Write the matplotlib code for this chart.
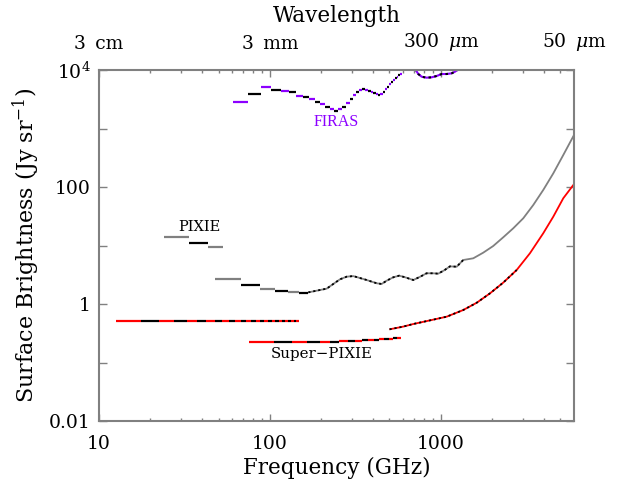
import numpy as np
import matplotlib
matplotlib.use("Agg")
import matplotlib.pyplot as plt
from matplotlib.ticker import FixedLocator, FixedFormatter, NullFormatter

plt.rcParams['font.family'] = ['DejaVu Serif']
plt.rcParams['mathtext.fontset'] = 'dejavuserif'

# ---------------- data (GHz, Jy/sr) ----------------
firas_edges = [61.0, 74.6, 88.2, 101.8, 115.4, 129.0, 142.6, 156.2, 169.8, 183.4,
               197.0, 210.6, 224.2, 237.8, 251.4, 265.0, 278.6, 292.2, 305.8, 319.4,
               333.0, 346.6, 360.2, 373.8, 387.4, 401.0, 414.6, 428.2, 441.8, 455.4,
               469.0, 482.6, 496.2, 509.8, 523.4, 537.0, 550.6, 564.2, 577.8, 591.4]
firas_vals = [2840, 3890, 5060, 4600, 4430, 4150, 3590, 3500, 3150, 2870,
              2620, 2360, 2130, 2010, 2130, 2360, 2760, 3150, 3690, 4200,
              4550, 4680, 4600, 4430, 4200, 3990, 3840, 3740, 3840, 4200,
              4680, 5190, 5770, 6240, 6740, 7210, 7690, 8110, 8550]
firas_hi_freq = [705, 737, 771, 824, 882, 944, 1009, 1080, 1155, 1208, 1245, 1260]
firas_hi_vals = [10500, 8540, 7680, 7390, 7500, 7900, 8540, 8540, 8780, 9350, 10000, 10300]

pixie_band1_edges = [24.0, 33.7, 43.2, 52.9]
pixie_band1_vals = [13.8, 11.2, 9.4]
pixie_band2_edges = [48.0, 67.5, 87.0, 107.0, 127.0, 147.0, 167.5]
pixie_band2_vals = [2.64, 2.09, 1.80, 1.67, 1.63, 1.56]
pixie_hi_freq = [167.5, 187.6, 214.6, 234.6, 256.5, 280.9, 307, 336, 368, 421, 450,
                 481, 526, 570, 620, 689, 760, 824, 900, 964, 1050, 1129, 1236,
                 1350, 1545, 1767, 2021, 2313, 2648, 3030, 3466, 3966, 4539, 5193, 6000]
pixie_hi_vals = [1.58, 1.69, 1.83, 2.20, 2.64, 2.93, 3.00, 2.78, 2.57, 2.26, 2.20,
                 2.50, 2.86, 3.05, 2.85, 2.57, 2.95, 3.35, 3.35, 3.30, 3.80, 4.40, 4.34,
                 5.65, 6.04, 7.54, 9.8, 13.8, 19.7, 29.2, 49.2, 89, 171, 352, 774]

sp_lo_edges = [12.5, 17.5, 22.5, 27.5, 32.5, 37.5, 42.5, 47.5, 52.5, 57.5, 62.5,
               67.5, 72.5, 77.5, 82.5, 87.5, 92.5, 97.5, 102.5, 107.5, 112.5,
               117.5, 122.5, 127.5, 132.5, 137.5, 142.5, 147.5]
sp_lo_vals = [0.51] * 27
sp_mid_edges = [75, 105, 135, 165, 195, 225, 255, 285, 315, 345, 375, 405, 435,
                465, 495, 525, 555, 585]
sp_mid_vals = [0.221, 0.221, 0.222, 0.223, 0.226, 0.228, 0.231, 0.233, 0.236,
               0.239, 0.242, 0.245, 0.249, 0.252, 0.256, 0.260, 0.264]
sp_hi_freq = [500, 600, 689, 850, 1080, 1350, 1618, 1935, 2313, 2772, 3314, 3966,
              4539, 5193, 6000]
sp_hi_vals = [0.369, 0.41, 0.455, 0.52, 0.607, 0.789, 1.05, 1.52, 2.32, 3.81, 7.36,
              16.2, 31.1, 64.2, 112]

y_ticks = [0.01, 0.1, 1, 10, 100, 1000, 1e4]
y_labels = ['0.01', '', '1', '', '100', '', r'$10^4$']
x_ticks = [10, 100, 1000]
x_labels = ['10', '100', '1000']
wl_freqs = [10, 100, 1000, 6000]
wl_labels = ['3\u2002cm', '3\u2002mm', '300\u2002$\\mu$m', '50\u2002$\\mu$m']

PURPLE = '#8c00ff'
GRAY = '#808080'
RED = '#ff0000'
SPINE = '#808080'

fig = plt.figure(figsize=(6.19, 4.84), dpi=100)
ax = fig.add_axes([99/619, 1-421/484, (574-99)/619, (421-70)/484])
ax.set_xscale('log')
ax.set_yscale('log')
ax.set_xlim(10, 6000)
ax.set_ylim(0.01, 1e4)


def bins(edges, vals, c1, c2, lw=1.6):
    e = np.asarray(edges)
    cols = [c1 if i % 2 == 0 else c2 for i in range(len(vals))]
    ax.hlines(vals, e[:-1], e[1:], colors=cols, linewidth=lw)


def dashed(freq, vals, c, lw=1.5, n_dash=None):
    ax.plot(freq, vals, color=c, lw=lw, solid_capstyle='butt')
    k = len(freq) if n_dash is None else n_dash
    ax.plot(freq[:k], vals[:k], color='black', lw=lw, linestyle=(0, (1.2, 1.6)))


bins(firas_edges, firas_vals, PURPLE, 'black')
dashed(firas_hi_freq, firas_hi_vals, PURPLE)

bins(pixie_band1_edges, pixie_band1_vals, GRAY, 'black')
bins(pixie_band2_edges, pixie_band2_vals, GRAY, 'black')
dashed(pixie_hi_freq, pixie_hi_vals, GRAY, lw=1.3, n_dash=24)

bins(sp_lo_edges, sp_lo_vals, RED, 'black')
bins(sp_mid_edges, sp_mid_vals, RED, 'black')
dashed(sp_hi_freq, sp_hi_vals, RED, lw=1.3, n_dash=10)

# text labels
ax.text(38.5, 20.7, 'PIXIE', fontsize=10.5, ha='center', va='center')
ax.text(200, 0.138, 'Super\u2212PIXIE', fontsize=10.8, ha='center', va='center')
ax.text(245, 1291, 'FIRAS', fontsize=11.5, ha='center', va='center', color=PURPLE,
        family='Liberation Serif')

# axes styling
for s in ax.spines.values():
    s.set_color(SPINE)
    s.set_linewidth(1.5)
ax.yaxis.set_major_locator(FixedLocator(y_ticks))
ax.yaxis.set_major_formatter(FixedFormatter(y_labels))
ax.yaxis.set_minor_locator(FixedLocator([]))
ax.xaxis.set_major_locator(FixedLocator(x_ticks))
ax.xaxis.set_major_formatter(FixedFormatter(x_labels))
minor = [m * d for d in (10, 100, 1000) for m in range(2, 10) if m * d < 6000]
ax.xaxis.set_minor_locator(FixedLocator(minor))
ax.xaxis.set_minor_formatter(NullFormatter())
ax.tick_params(which='both', direction='in', top=True, right=True, color=SPINE,
               labelsize=13.5, width=1)
ax.tick_params(axis='x', which='major', length=5, pad=10)
ax.tick_params(axis='x', which='minor', length=2.5)
ax.tick_params(axis='y', which='major', length=6, pad=6)

ax.set_xlabel('Frequency (GHz)', fontsize=15.5, labelpad=3)
ax.set_ylabel('Surface Brightness (Jy sr$^{-1}$)', fontsize=16, labelpad=5)

secax = ax.secondary_xaxis('top')
secax.xaxis.set_major_locator(FixedLocator(wl_freqs))
secax.xaxis.set_major_formatter(FixedFormatter(wl_labels))
secax.xaxis.set_minor_locator(FixedLocator([]))
secax.tick_params(length=0, labelsize=13.5, pad=12)
secax.spines['top'].set_visible(False)
secax.set_xlabel('Wavelength', fontsize=15.5, labelpad=7)

fig.savefig('out.png', dpi=100)
